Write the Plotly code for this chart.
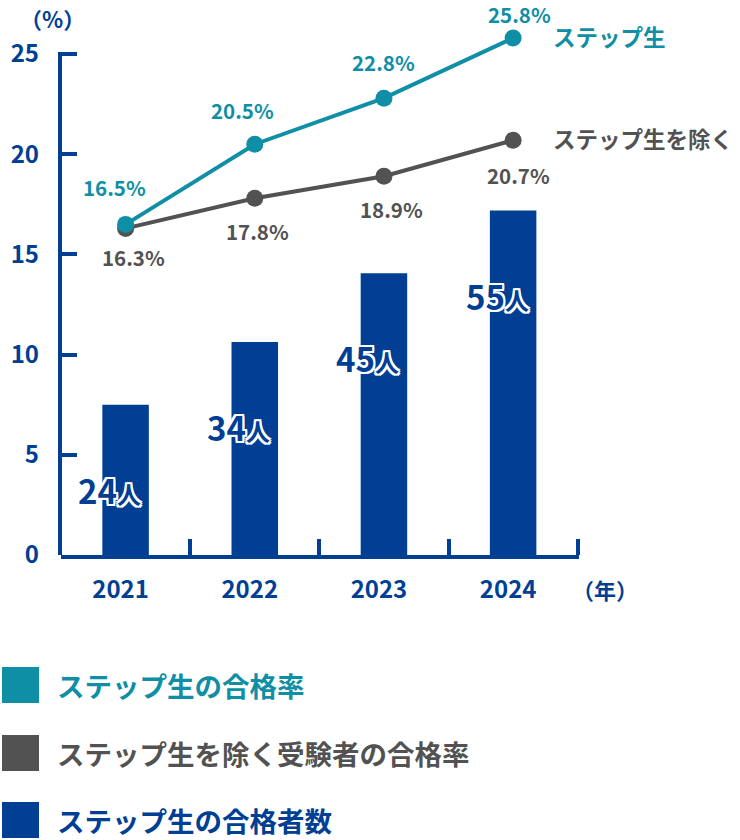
import plotly.graph_objects as go

# ---------------- data ----------------
years = ["2021", "2022", "2023", "2024"]
step_rate = [16.5, 20.5, 22.8, 25.8]          # ステップ生の合格率 (%)
other_rate = [16.3, 17.8, 18.9, 20.7]         # ステップ生を除く受験者の合格率 (%)
step_count = [24, 34, 45, 55]                 # ステップ生の合格者数 (人)
y_ticks = [0, 5, 10, 15, 20, 25]

series_names = ["ステップ生", "ステップ生を除く"]
legend_labels = ["ステップ生の合格率", "ステップ生を除く受験者の合格率", "ステップ生の合格者数"]

# ---------------- style ----------------
TEAL = "#0f8fa5"
GRAY = "#525252"
BLUE = "#003f94"
FONT = "Noto Sans CJK JP"
W, H = 740, 840
ML, MR, MT, MB = 61, 161, 24, 285
PW, PH = W - ML - MR, H - MT - MB
Y_TOP = 26.5                 # headroom so the top line segment is not clipped
Y_AXIS_MAX = 25
COUNT_AXIS_MAX = 80 * Y_TOP / Y_AXIS_MAX


def px(X):
    return (X - ML) / PW


def py(Y):
    return (H - MB - Y) / PH


fig = go.Figure()

fig.add_trace(go.Bar(
    x=years, y=step_count, yaxis="y2", marker=dict(color=BLUE, line=dict(width=0)),
    width=0.36, showlegend=False, hoverinfo="skip",
))
fig.add_trace(go.Scatter(
    x=years, y=other_rate, mode="lines+markers", line=dict(color=GRAY, width=4),
    marker=dict(size=17, color=GRAY), showlegend=False, cliponaxis=False,
))
fig.add_trace(go.Scatter(
    x=years, y=step_rate, mode="lines+markers", line=dict(color=TEAL, width=4),
    marker=dict(size=17, color=TEAL), showlegend=False, cliponaxis=False,
))

annotations = []
# rate labels (x given as category index)
step_label_dy = [37, 34, 36, 24]
step_label_dx = [-11, -12, 0, 6]
for i, v in enumerate(step_rate):
    annotations.append(dict(x=i, y=v, xref="x", yref="y", text=f"{v:.1f}%", showarrow=False,
                            yshift=step_label_dy[i], xshift=step_label_dx[i], borderpad=0,
                            font=dict(family=FONT, size=20.5, color=TEAL, weight="bold")))
other_label_dy = [-29, -33, -33, -35]
other_label_dx = [8, 3, 8, 5]
for i, v in enumerate(other_rate):
    annotations.append(dict(x=i, y=v, xref="x", yref="y", text=f"{v:.1f}%", showarrow=False,
                            yshift=other_label_dy[i], xshift=other_label_dx[i],
                            font=dict(family=FONT, size=20.5, color=GRAY, weight="bold")))

# bar count labels
outline = ",".join(f"{dx}px {dy}px 0 #fff" for dx in (-2, 0, 2) for dy in (-2, 0, 2) if dx or dy)
for i, c in enumerate(step_count):
    annotations.append(dict(x=i, y=c, xref="x", yref="y2",
                            text=f"{c}<span style='font-size:24px'>人</span>", showarrow=False,
                            yshift=-85, xshift=-16,
                            font=dict(family=FONT, size=33, color=BLUE, weight="bold", shadow=outline)))

# series names at line ends
last = len(years) - 1
annotations.append(dict(x=last, y=step_rate[-1], xref="x", yref="y", text=series_names[0],
                        showarrow=False, xanchor="left", xshift=38, yshift=2,
                        font=dict(family=FONT, size=22.5, color=TEAL, weight="bold")))
annotations.append(dict(x=last, y=other_rate[-1], xref="x", yref="y", text=series_names[1],
                        showarrow=False, xanchor="left", xshift=38, yshift=2,
                        font=dict(family=FONT, size=22.5, color=GRAY, weight="bold")))

# axis unit labels
annotations.append(dict(x=px(52), y=py(18), xref="paper", yref="paper", text="（%）", showarrow=False,
                        xanchor="center", yanchor="middle",
                        font=dict(family=FONT, size=22, color=BLUE, weight="bold")))
annotations.append(dict(x=px(605), y=py(589), xref="paper", yref="paper", text="（年）", showarrow=False,
                        xanchor="center", yanchor="middle",
                        font=dict(family=FONT, size=22, color=BLUE, weight="bold")))

# y axis line (only up to the 25 tick)
shapes = [dict(type="line", xref="paper", yref="y", x0=px(60), x1=px(60), y0=-0.2, y1=25.1,
               line=dict(color=BLUE, width=4))]

# custom legend
legend_colors = [TEAL, GRAY, BLUE]
legend_top = [667, 735, 802]
for lab, col, top in zip(legend_labels, legend_colors, legend_top):
    shapes.append(dict(type="rect", xref="paper", yref="paper", x0=px(2), x1=px(39),
                       y0=py(top + 36), y1=py(top), fillcolor=col, line=dict(width=0)))
    annotations.append(dict(x=px(55), y=py(top + 18), xref="paper", yref="paper", text=lab,
                            showarrow=False, xanchor="left", yanchor="middle",
                            font=dict(family=FONT, size=27.5, color=col, weight="bold")))

fig.update_layout(
    width=W, height=H, autosize=False,
    margin=dict(l=ML, r=MR, t=MT, b=MB),
    paper_bgcolor="white", plot_bgcolor="white",
    font=dict(family=FONT, color=BLUE),
    hovermode=False,
    xaxis=dict(type="category", range=[-0.5, 3.51], showgrid=False, zeroline=False, automargin=False,
               showline=True, linecolor=BLUE, linewidth=4,
               ticks="inside", tickson="boundaries", ticklen=16, tickwidth=4, tickcolor=BLUE,
               tickfont=dict(family=FONT, size=24, color=BLUE, weight="bold"),
               ticklabelstandoff=10, ticklabelshift=-5),
    yaxis=dict(range=[0, Y_TOP], tickvals=y_ticks, showgrid=False, zeroline=False, automargin=False,
               showline=False,
               ticks="inside", ticklen=16, tickwidth=4, tickcolor=BLUE,
               tickfont=dict(family=FONT, size=24, color=BLUE, weight="bold"), ticklabelstandoff=21),
    yaxis2=dict(range=[0, COUNT_AXIS_MAX], overlaying="y", visible=False),
    annotations=annotations,
    shapes=shapes,
)

fig.write_html(
    "out.html",
    config={"displayModeBar": False, "staticPlot": True},
    post_script="document.body.style.margin='0';document.body.style.overflow='hidden';",
)
